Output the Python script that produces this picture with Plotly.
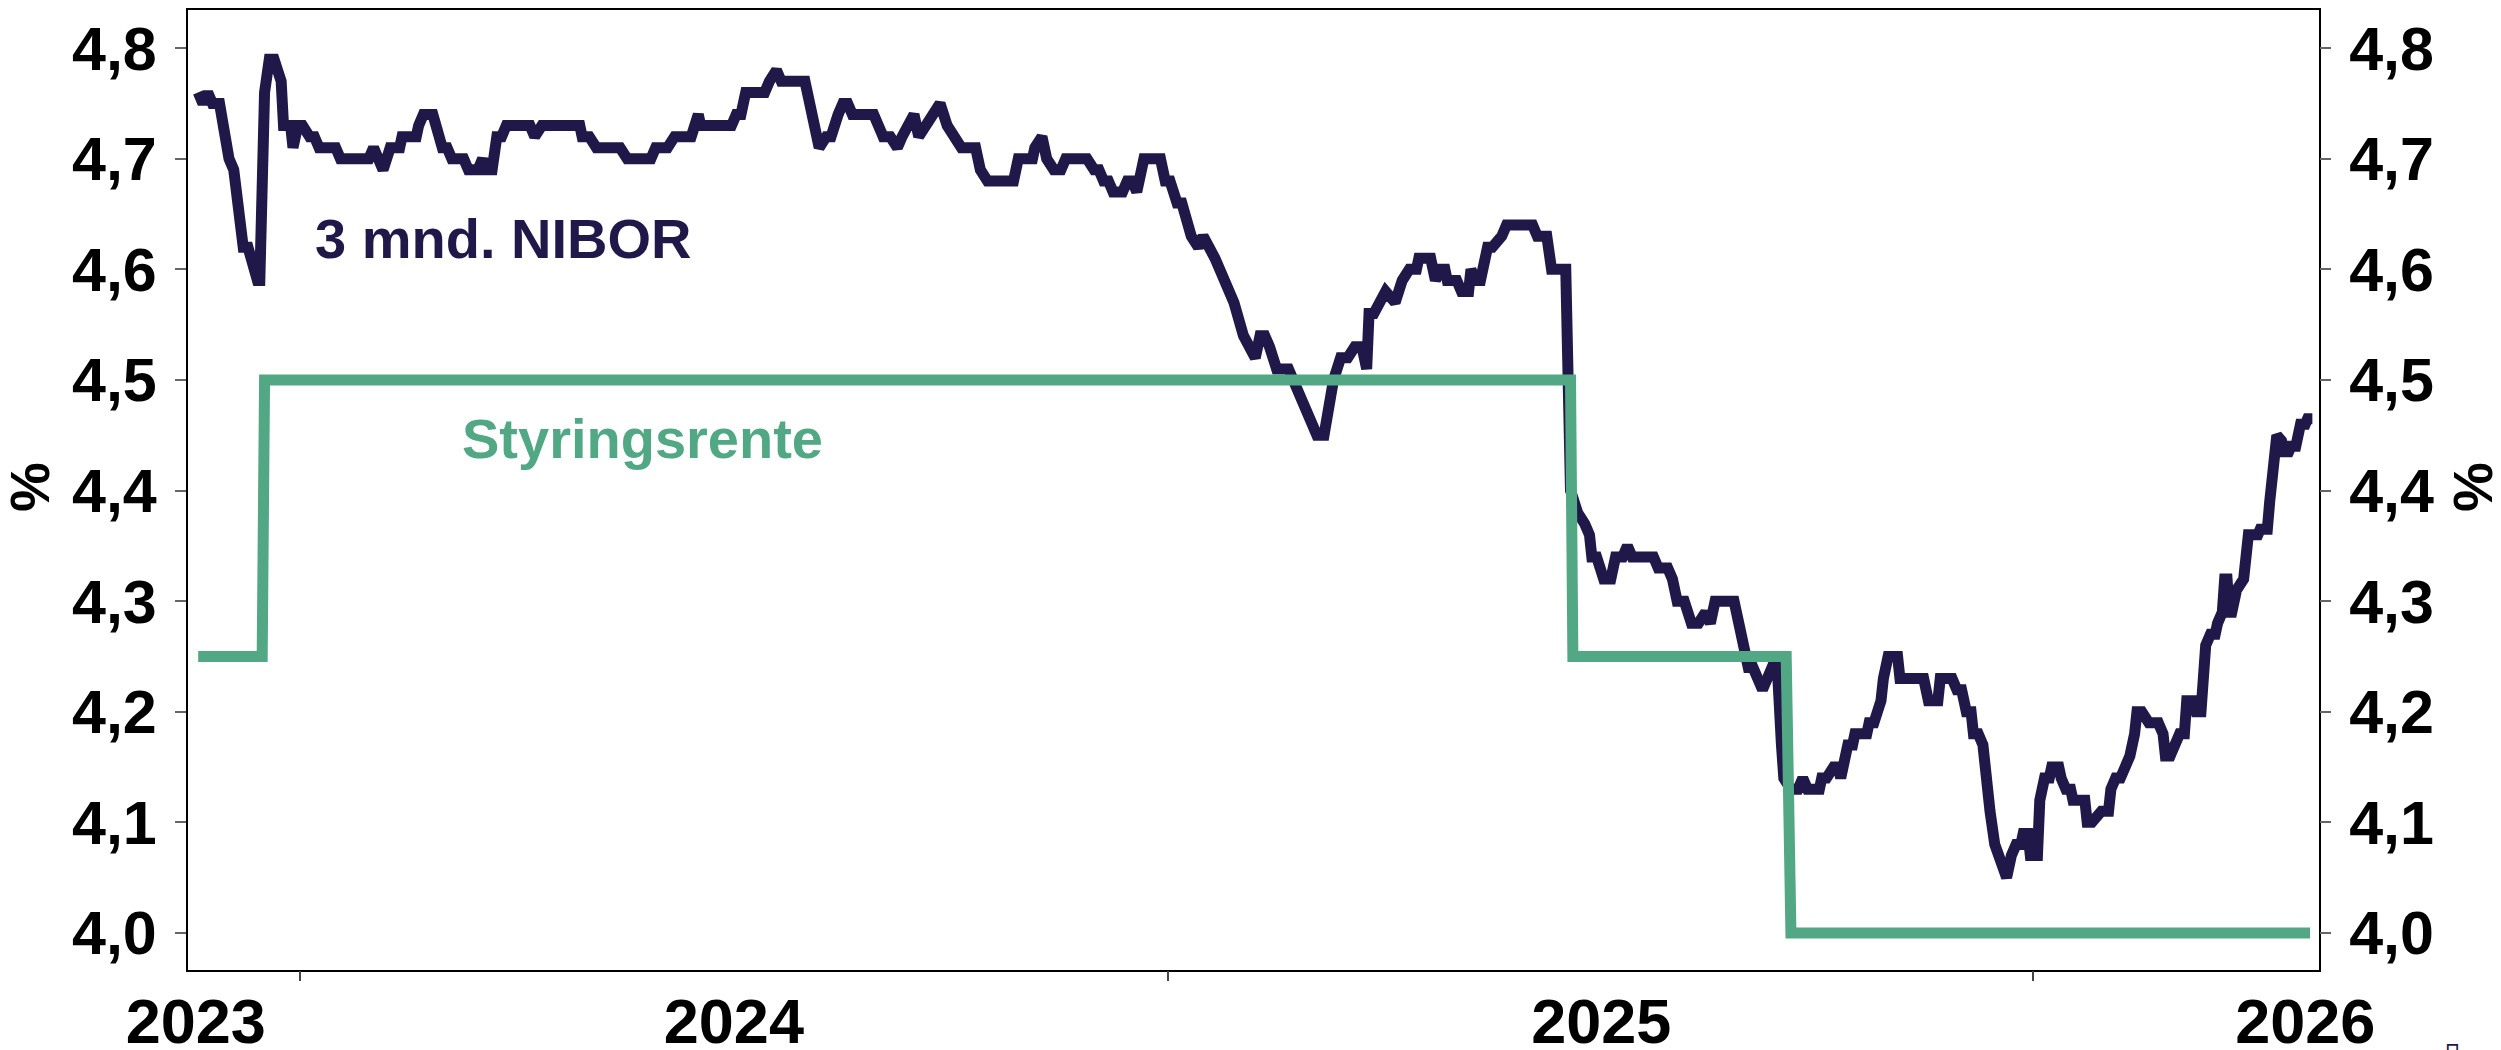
import pandas as pd
import plotly.graph_objects as go

# x values are days counted from 1 Jan 2024
base = pd.Timestamp("2024-01-01")

nibor_days = [
    -43, -41, -39, -37, -34, -32, -30, -28, -26, -24,
    -22, -20, -18, -17, -15, -13, -11, -8, -7, -4,
    -3, -1, 1, 4, 6, 8, 15, 17, 29, 31,
    33, 35, 38, 42, 43, 49, 50, 52, 56, 57,
    60, 62, 64, 69, 71, 75, 77, 78, 81, 83,
    85, 87, 97, 99, 102, 118, 119, 122, 125, 135,
    138, 148, 150, 155, 158, 165, 168, 169, 182, 184,
    186, 188, 196, 198, 201, 203, 211, 213, 215, 217,
    219, 222, 224, 227, 229, 231, 233, 236, 242, 244,
    246, 249, 252, 254, 257, 259, 261, 264, 267, 270,
    273, 276, 279, 285, 287, 290, 301, 303, 309, 310,
    313, 315, 318, 321, 323, 332, 335, 337, 339, 341,
    343, 347, 349, 351, 353, 356, 363, 365, 367, 370,
    372, 376, 379, 381, 384, 386, 388, 394, 398, 400,
    403, 405, 407, 409, 412, 417, 419, 422, 424, 427,
    429, 432, 434, 436, 439, 442, 445, 448, 450, 451,
    453, 455, 458, 462, 465, 468, 471, 472, 477, 478,
    479, 481, 483, 484, 488, 490, 493, 494, 496, 498,
    501, 503, 507, 509, 520, 522, 526, 528, 534, 536,
    539, 542, 544, 545, 547, 550, 553, 555, 558, 560,
    562, 571, 573, 577, 579, 581, 584, 587, 590, 593,
    595, 597, 605, 607, 609, 611, 613, 615, 617, 619,
    621, 623, 625, 626, 629, 632, 634, 636, 641, 642,
    644, 647, 649, 650, 651, 653, 655, 656, 661, 662,
    664, 666, 667, 668, 670, 674, 675, 685, 687, 691,
    692, 697, 699, 701, 703, 705, 706, 708, 710, 711,
    712, 713, 715, 717, 718, 720, 722, 724, 726, 727,
    729, 730, 733, 734, 736, 738, 739, 742, 743, 745,
    747, 748, 753, 754, 756, 760, 763, 764, 766, 768,
    770, 772, 774, 775, 777, 780, 784, 786, 787, 789,
    791, 793, 795, 796, 799, 800, 802, 803, 804, 806,
    808, 809, 811, 812, 813, 814, 815, 817, 820, 822,
    826, 827, 830, 831, 832, 833, 834, 836, 837, 839,
    840, 842, 844, 846, 847, 849,
]
nibor_values = [
    4.76, 4.75, 4.76, 4.75, 4.75, 4.72, 4.70, 4.69, 4.65, 4.62,
    4.62, 4.60, 4.59, 4.59, 4.76, 4.79, 4.79, 4.77, 4.73, 4.73,
    4.71, 4.73, 4.73, 4.72, 4.72, 4.71, 4.71, 4.70, 4.70, 4.71,
    4.70, 4.69, 4.71, 4.71, 4.72, 4.72, 4.73, 4.74, 4.74, 4.73,
    4.71, 4.71, 4.70, 4.70, 4.69, 4.69, 4.70, 4.69, 4.69, 4.72,
    4.72, 4.73, 4.73, 4.72, 4.73, 4.73, 4.72, 4.72, 4.71, 4.71,
    4.70, 4.70, 4.71, 4.71, 4.72, 4.72, 4.74, 4.73, 4.73, 4.74,
    4.74, 4.76, 4.76, 4.77, 4.78, 4.77, 4.77, 4.77, 4.75, 4.73,
    4.71, 4.72, 4.72, 4.74, 4.75, 4.75, 4.74, 4.74, 4.74, 4.73,
    4.72, 4.72, 4.71, 4.72, 4.73, 4.74, 4.72, 4.73, 4.74, 4.75,
    4.73, 4.72, 4.71, 4.71, 4.69, 4.68, 4.68, 4.70, 4.70, 4.71,
    4.72, 4.70, 4.69, 4.69, 4.70, 4.70, 4.69, 4.69, 4.68, 4.68,
    4.67, 4.67, 4.68, 4.68, 4.67, 4.70, 4.70, 4.68, 4.68, 4.66,
    4.66, 4.63, 4.62, 4.63, 4.62, 4.61, 4.60, 4.57, 4.54, 4.53,
    4.52, 4.54, 4.54, 4.53, 4.51, 4.51, 4.50, 4.48, 4.47, 4.46,
    4.45, 4.45, 4.48, 4.50, 4.52, 4.52, 4.53, 4.53, 4.51, 4.56,
    4.56, 4.57, 4.58, 4.57, 4.59, 4.60, 4.60, 4.61, 4.61, 4.60,
    4.59, 4.60, 4.60, 4.59, 4.59, 4.58, 4.58, 4.60, 4.59, 4.59,
    4.62, 4.62, 4.63, 4.64, 4.64, 4.63, 4.63, 4.60, 4.60, 4.40,
    4.38, 4.37, 4.36, 4.34, 4.34, 4.32, 4.32, 4.34, 4.34, 4.35,
    4.34, 4.34, 4.33, 4.33, 4.32, 4.30, 4.30, 4.28, 4.28, 4.29,
    4.28, 4.30, 4.30, 4.28, 4.26, 4.24, 4.24, 4.23, 4.22, 4.23,
    4.24, 4.25, 4.17, 4.14, 4.13, 4.13, 4.14, 4.13, 4.13, 4.14,
    4.14, 4.15, 4.15, 4.14, 4.15, 4.17, 4.17, 4.18, 4.18, 4.19,
    4.19, 4.20, 4.21, 4.23, 4.25, 4.25, 4.23, 4.23, 4.21, 4.21,
    4.23, 4.23, 4.22, 4.22, 4.20, 4.20, 4.18, 4.18, 4.17, 4.15,
    4.12, 4.11, 4.08, 4.07, 4.06, 4.05, 4.07, 4.08, 4.08, 4.09,
    4.09, 4.07, 4.07, 4.12, 4.14, 4.14, 4.15, 4.15, 4.14, 4.13,
    4.13, 4.12, 4.12, 4.10, 4.10, 4.11, 4.11, 4.13, 4.14, 4.14,
    4.15, 4.16, 4.18, 4.20, 4.20, 4.19, 4.19, 4.18, 4.16, 4.16,
    4.17, 4.18, 4.18, 4.21, 4.21, 4.20, 4.20, 4.22, 4.26, 4.27,
    4.27, 4.28, 4.29, 4.32, 4.32, 4.29, 4.29, 4.31, 4.32, 4.36,
    4.36, 4.365, 4.365, 4.39, 4.42, 4.45, 4.45, 4.445, 4.435, 4.435,
    4.44, 4.44, 4.46, 4.46, 4.465, 4.465,
]

rate_days = [-43, -16, -15, 536, 537, 627, 629, 848]
rate_values = [4.25, 4.25, 4.50, 4.50, 4.25, 4.25, 4.00, 4.00]

year_starts = ["2024-01-01", "2025-01-01", "2026-01-01"]
year_label_days = [-44, 183, 549, 846]
year_labels = ["2023", "2024", "2025", "2026"]
y_ticks = [4.0, 4.1, 4.2, 4.3, 4.4, 4.5, 4.6, 4.7, 4.8]


def to_dates(days):
    return base + pd.to_timedelta(days, unit="D")


navy = "#201848"
green = "#52a785"
bold = dict(family="Liberation Sans, Arial, sans-serif", weight="bold")

x_range = [base + pd.Timedelta(days=-47.3), base + pd.Timedelta(days=851.8)]
y_range = [3.9665, 4.8345]

fig = go.Figure()
fig.add_trace(go.Scatter(x=to_dates(nibor_days), y=nibor_values, mode="lines",
                         line=dict(color=navy, width=11), name="3 mnd. NIBOR"))
fig.add_trace(go.Scatter(x=to_dates(rate_days), y=rate_values, mode="lines",
                         line=dict(color=green, width=11), name="Styringsrente",
                         xaxis="x2", yaxis="y2"))

y_common = dict(range=y_range, tickvals=y_ticks, tickformat=".1f", ticks="outside",
                ticklen=11, tickwidth=2, tickcolor="#666666", showgrid=False,
                zeroline=False, automargin=False,
                tickfont=dict(size=61, color="black", **bold), ticklabelstandoff=6)

fig.update_layout(
    template="none",
    width=2501, height=1050,
    margin=dict(l=188, r=182, t=10, b=80),
    paper_bgcolor="white", plot_bgcolor="white",
    showlegend=False,
    separators=", ",
    xaxis=dict(range=x_range, tickvals=to_dates(year_label_days), ticktext=year_labels,
               ticks="", showgrid=False, zeroline=False, showline=True, mirror=True,
               linecolor="black", linewidth=2, automargin=False,
               tickfont=dict(size=63, color="black", **bold), ticklabelstandoff=-5),
    xaxis2=dict(overlaying="x", anchor="y2", side="bottom", range=x_range,
                tickvals=year_starts, showticklabels=False, ticks="outside",
                ticklen=10, tickwidth=2, tickcolor="#444444", showgrid=False,
                zeroline=False, showline=False, automargin=False),
    yaxis=dict(showline=True, mirror=True, linecolor="black", linewidth=2, **y_common),
    yaxis2=dict(overlaying="y", anchor="x2", side="right", showline=False, **y_common),
)

fig.add_annotation(x=str(base + pd.Timedelta(days=85.7)), y=4.6275, text="3 mnd. NIBOR",
                   showarrow=False, xanchor="center", yanchor="middle",
                   font=dict(size=56, color=navy, **bold))
fig.add_annotation(x=str(base + pd.Timedelta(days=144.4)), y=4.4467, text="Styringsrente",
                   showarrow=False, xanchor="center", yanchor="middle",
                   font=dict(size=56, color=green, **bold))
fig.add_annotation(xref="paper", yref="paper", x=0, y=0.5, xshift=-159, yshift=3,
                   xanchor="center", yanchor="middle",
                   text="%", textangle=-90, showarrow=False,
                   font=dict(size=56, color="black", **bold))
fig.add_annotation(xref="paper", yref="paper", x=1, y=0.5, xshift=153, yshift=3,
                   xanchor="center", yanchor="middle",
                   text="%", textangle=-90, showarrow=False,
                   font=dict(size=56, color="black", **bold))
fig.add_annotation(xref="paper", yref="paper", x=1, y=0, xshift=133, yshift=-63,
                   xanchor="center", yanchor="top", text="▯", showarrow=False,
                   font=dict(size=30, color=navy, family="DejaVu Sans"))

fig.write_html("out.html", config={"displayModeBar": False},
               post_script="document.body.style.margin='0px';")
